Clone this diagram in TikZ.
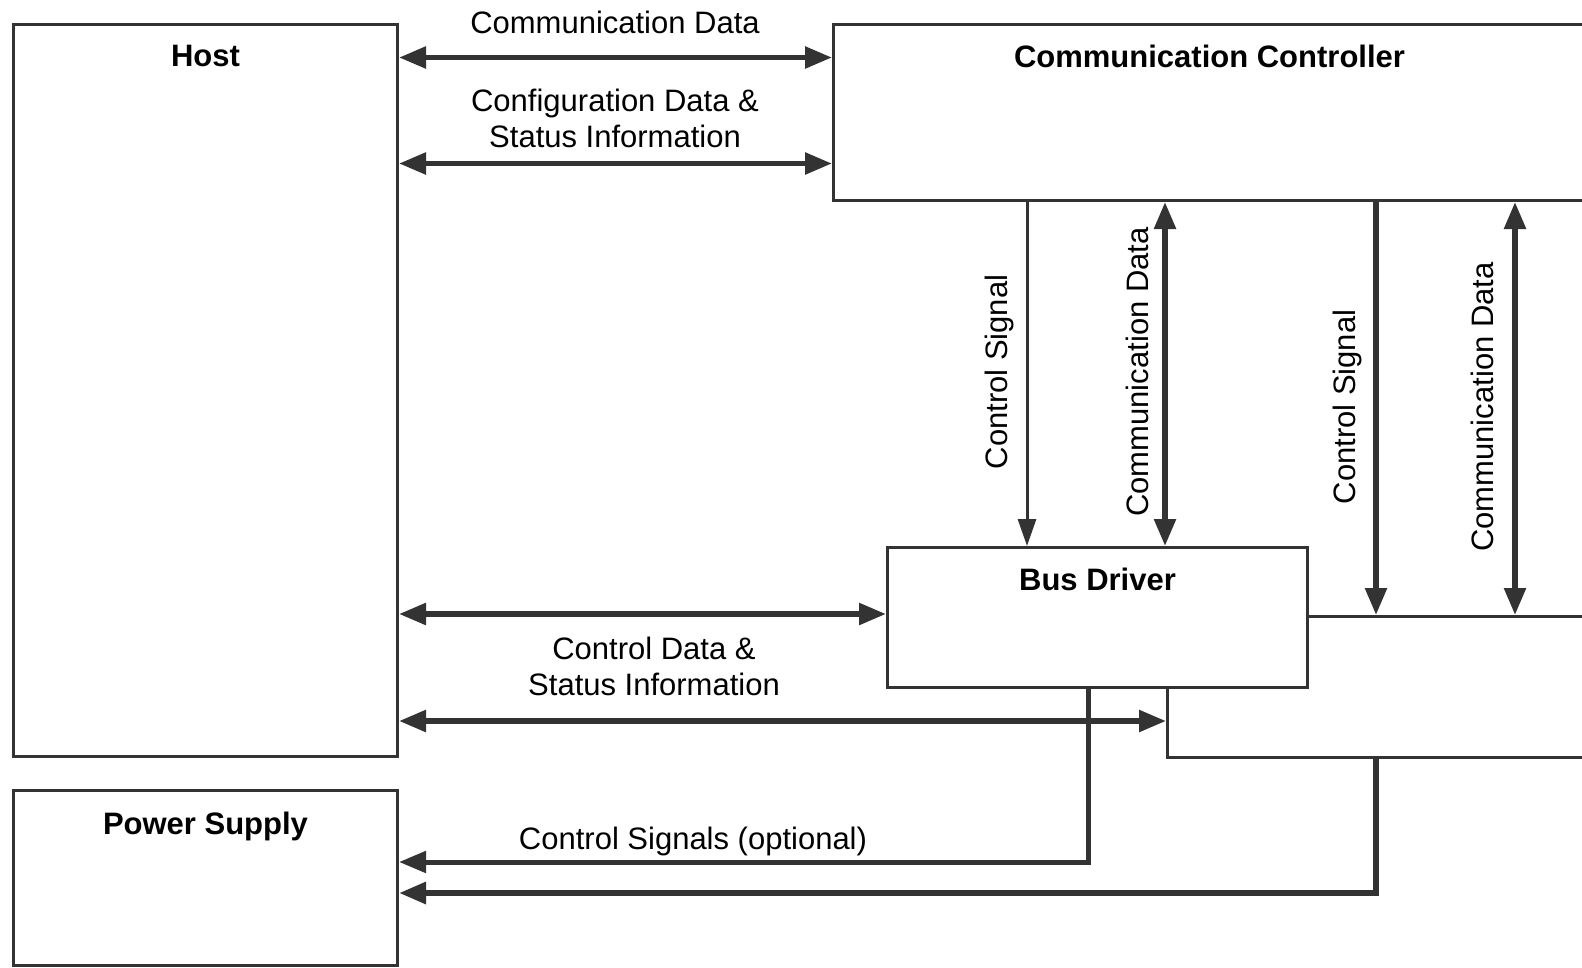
\documentclass[tikz,border=0pt]{standalone}
\usepackage{fontspec}
\setmainfont{Liberation Sans}
\usetikzlibrary{arrows.meta,calc}
\definecolor{lc}{RGB}{51,51,51}
\begin{document}
\begin{tikzpicture}[x=1pt,y=-1pt,
  box/.style={draw=lc, line width=3pt, fill=white, inner sep=0pt, anchor=north west},
  boxtitle/.style={font=\fontsize{31}{36}\selectfont\bfseries, inner sep=0pt},
  lbl/.style={font=\fontsize{31}{36}\selectfont, align=center, inner sep=0pt},
  dblarrow/.style={draw=lc, line width=5.5pt, {Triangle[length=27pt,width=21pt]}-{Triangle[length=27pt,width=21pt]}},
  onearrow/.style={draw=lc, line width=5.5pt, -{Triangle[length=27pt,width=21pt]}},
  thinarrow/.style={draw=lc, line width=3pt, -{Triangle[length=27pt,width=18pt]}},
  optarrow/.style={draw=lc, line width=5pt, -{Triangle[length=27pt,width=21pt]}},
]
\useasboundingbox (0,0) rectangle (1582,967);
\fill[white] (0,0) rectangle (1582,967);
\clip (0,0) rectangle (1582,967);

% boxes
\node[box, minimum width=384pt, minimum height=732pt] (host) at (12,23) {};
\node[box, minimum width=384pt, minimum height=175pt] (ps) at (12,789) {};
\node[box, minimum width=752pt, minimum height=176pt] (cc) at (832,23) {};
\node[box, minimum width=430pt, minimum height=141pt] (bus) at (1166,615) {};
\node[box, minimum width=420pt, minimum height=140pt] (bd) at (886,546) {};

% titles
\node[boxtitle] (hostT) at ($(host.north)+(0,33)$) {Host};
\node[boxtitle] (psT) at ($(ps.north)+(0,37)$) {Power Supply};
\node[boxtitle] (ccT) at ($(cc.north)+(0,33)$) {Communication Controller};
\node[boxtitle] (bdT) at ($(bd.north)+(0,33)$) {Bus Driver};

% helper coordinates
\coordinate (ya) at (0,57.5);
\coordinate (yb) at (0,163.5);
\coordinate (yc) at (0,614);
\coordinate (yd) at (0,721);
\coordinate (ye) at (0,862);
\coordinate (yf) at (0,893);
\coordinate (xa) at (1027,0);
\coordinate (xb) at (1165,0);
\coordinate (xc) at (1376,0);
\coordinate (xd) at (1515,0);
\coordinate (xe) at (1088,0);

% host <-> communication controller
\draw[dblarrow] (host.east |- ya) -- (cc.west |- ya);
\draw[dblarrow] (host.east |- yb) -- (cc.west |- yb);
\node[lbl] (l1) at (615,22) {Communication Data};
\node[lbl] (l2) at (615,118) {Configuration Data \&\\Status Information};

% controller <-> bus driver
\draw[thinarrow] (cc.south -| xa) -- (bd.north -| xa);
\draw[dblarrow] (cc.south -| xb) -- (bd.north -| xb);
\node[lbl, rotate=90] (l3) at (999,372) {Control Signal};
\node[lbl, rotate=90] (l4) at (1137,372) {Communication Data};

% controller <-> bus
\draw[onearrow] (cc.south -| xc) -- (bus.north -| xc);
\draw[dblarrow] (cc.south -| xd) -- (bus.north -| xd);
\node[lbl, rotate=90] (l5) at (1347,407) {Control Signal};
\node[lbl, rotate=90] (l6) at (1482,407) {Communication Data};

% host <-> bus driver / bus
\draw[dblarrow] (host.east |- yc) -- (bd.west |- yc);
\node[lbl] (l7) at (654,666) {Control Data \&\\Status Information};
\draw[dblarrow] (host.east |- yd) -- (bus.west |- yd);

% to power supply
\draw[optarrow] (bd.south -| xe) -- (xe |- ye) -- (ps.east |- ye);
\node[lbl] (l8) at (693,841) {Control Signals (optional)};
\draw[optarrow, line width=6pt] (bus.south -| xc) -- (xc |- yf) -- (ps.east |- yf);
\end{tikzpicture}
\end{document}
